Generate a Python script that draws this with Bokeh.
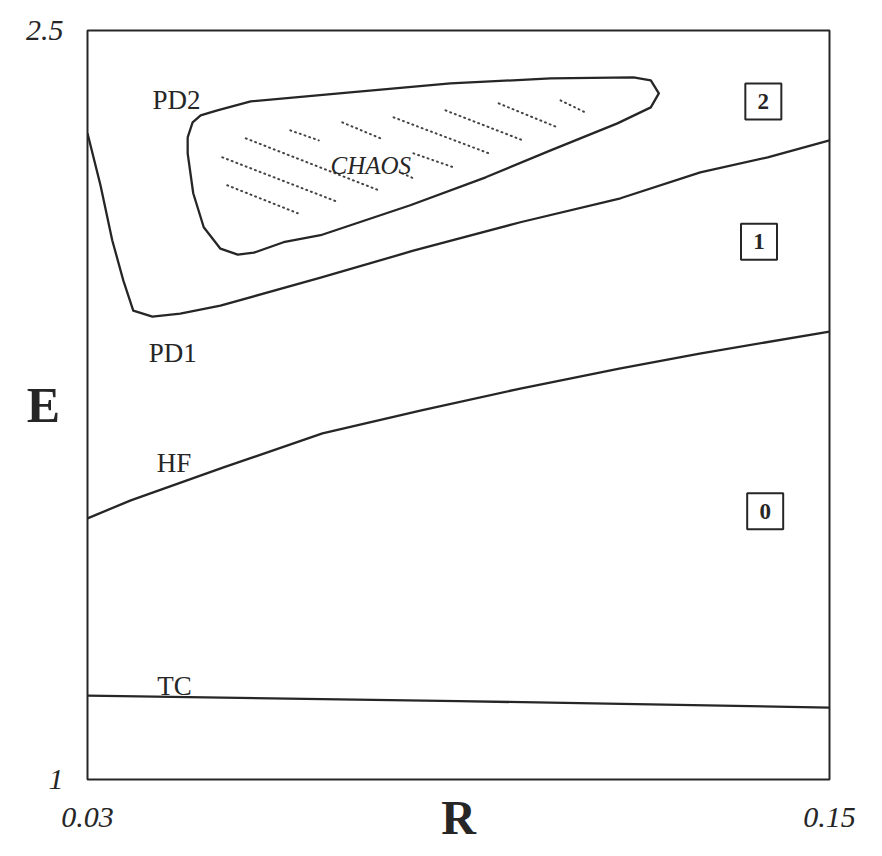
from bokeh.plotting import figure
from bokeh.models import FixedTicker, Range1d
from bokeh.core.properties import value
from bokeh.embed import file_html
from bokeh.resources import INLINE

# ---------------- data ----------------
x_ticks = [0.03, 0.15]
x_tick_labels = ["0.03", "0.15"]
y_ticks = [1.0, 2.5]
y_tick_labels = ["1", "2.5"]

# TC : turning-curve boundary
tc_R = [0.030, 0.090, 0.150]
tc_E = [1.168, 1.157, 1.144]

# HF : Hopf curve
hf_R = [0.030, 0.037, 0.052, 0.068, 0.084, 0.100, 0.116, 0.129, 0.150]
hf_E = [1.523, 1.559, 1.625, 1.693, 1.739, 1.783, 1.823, 1.853, 1.897]

# PD1 : first period-doubling curve
pd1_R = [0.0300, 0.0321, 0.0340, 0.0358, 0.0374, 0.0405, 0.0450, 0.0515,
         0.0677, 0.0827, 0.1000, 0.1162, 0.1291, 0.1400, 0.1500]
pd1_E = [2.294, 2.190, 2.080, 1.999, 1.939, 1.927, 1.933, 1.949,
         2.005, 2.059, 2.116, 2.164, 2.216, 2.246, 2.280]

# PD2 : second period-doubling curve (closed)
pd2_R = [0.0462, 0.0470, 0.0483, 0.0510, 0.0564, 0.0725, 0.0887, 0.1049,
         0.1183, 0.1211, 0.1224, 0.1211, 0.1157, 0.1049, 0.0944, 0.0822,
         0.0677, 0.0617, 0.0569, 0.0543, 0.0515, 0.0488, 0.0471, 0.0462, 0.0462]
pd2_E = [2.286, 2.316, 2.330, 2.340, 2.358, 2.376, 2.394, 2.404,
         2.406, 2.400, 2.374, 2.346, 2.314, 2.260, 2.206, 2.150,
         2.090, 2.076, 2.055, 2.051, 2.063, 2.106, 2.174, 2.254, 2.286]

# chaos hatching (dotted segments)
hatch_R0 = [0.0526, 0.0518, 0.0556, 0.0628, 0.0712, 0.0795, 0.0827, 0.0809, 0.0879, 0.0965, 0.1065]
hatch_E0 = [2.190, 2.246, 2.284, 2.300, 2.316, 2.326, 2.254, 2.214, 2.340, 2.354, 2.360]
hatch_R1 = [0.0640, 0.0706, 0.0771, 0.0674, 0.0774, 0.0949, 0.0892, 0.0827, 0.1004, 0.1060, 0.1105]
hatch_E1 = [2.134, 2.156, 2.180, 2.280, 2.284, 2.254, 2.226, 2.204, 2.280, 2.306, 2.336]

# curve names
curve_names = ["PD2", "PD1", "HF", "TC"]
# region numbers
region_names = ["2", "1", "0"]
chaos_name = "CHAOS"
x_title = "R"
y_title = "E"

# ---------------- layout constants ----------------
curve_label_R = [0.0405, 0.0399, 0.0412, 0.0413]
curve_label_E = [2.360, 1.855, 1.633, 1.188]
region_R = [0.1393, 0.1386, 0.1396]
region_E = [2.358, 2.077, 1.537]

INK = "#262626"
SERIF = "Liberation Serif"

p = figure(width=866, height=846,
           x_range=Range1d(0.03, 0.15), y_range=Range1d(1.0, 2.5),
           output_backend="svg", toolbar_location=None,
           min_border_left=87, min_border_right=37,
           min_border_top=30, min_border_bottom=67)

p.xgrid.visible = False
p.ygrid.visible = False
p.outline_line_color = INK
p.outline_line_width = 2
p.background_fill_color = "white"
p.border_fill_color = "white"

# axes
p.xaxis.ticker = FixedTicker(ticks=x_ticks)
p.xaxis.major_label_overrides = {t: s for t, s in zip(x_ticks, x_tick_labels)}
p.yaxis.ticker = FixedTicker(ticks=y_ticks)
p.yaxis.major_label_overrides = {t: s for t, s in zip(y_ticks, y_tick_labels)}
for ax in (p.xaxis, p.yaxis):
    ax.axis_line_color = None
    ax.major_tick_line_color = None
    ax.minor_tick_line_color = None
    ax.major_label_text_font = SERIF
    ax.major_label_text_font_style = "italic"
    ax.major_label_text_font_size = "30px"
    ax.major_label_text_color = INK
    ax.axis_label_text_font = SERIF
    ax.axis_label_text_font_style = "bold"
    ax.axis_label_text_color = INK
p.xaxis.major_label_standoff = 22
p.yaxis.major_label_standoff = 18

p.xaxis.axis_label = x_title
p.xaxis.axis_label_text_font_size = "48px"
p.xaxis.axis_label_standoff = -39

p.yaxis.axis_label = y_title
p.yaxis.axis_label_text_font_size = "50px"
p.yaxis.axis_label_orientation = "horizontal"
p.yaxis.axis_label_standoff = -37

# curves
for xs, ys in ((tc_R, tc_E), (hf_R, hf_E), (pd1_R, pd1_E), (pd2_R, pd2_E)):
    p.line(xs, ys, line_color=INK, line_width=2.3, line_join="round")

# chaos hatching
p.segment(hatch_R0, hatch_E0, hatch_R1, hatch_E1, line_color="#444444",
          line_width=2, line_dash="1 4", line_cap="round")

# curve labels
p.text(curve_label_R, curve_label_E, text=curve_names,
       text_font=value(SERIF), text_font_size="27px", text_color=INK,
       text_align="left", text_baseline="alphabetic")

p.text([0.0693], [2.230], text=[chaos_name],
       text_font=value(SERIF), text_font_style="italic", text_font_size="25px",
       text_color=INK, text_align="left", text_baseline="alphabetic")

# boxed region numbers
p.scatter(region_R, region_E, marker="square", size=36,
          fill_color=None, line_color=INK, line_width=2)
p.text(region_R, region_E, text=region_names,
       text_font=value(SERIF), text_font_style="bold", text_font_size="23px",
       text_color=INK, text_align="center", text_baseline="middle")

open("out.html", "w").write(file_html(p, INLINE))
